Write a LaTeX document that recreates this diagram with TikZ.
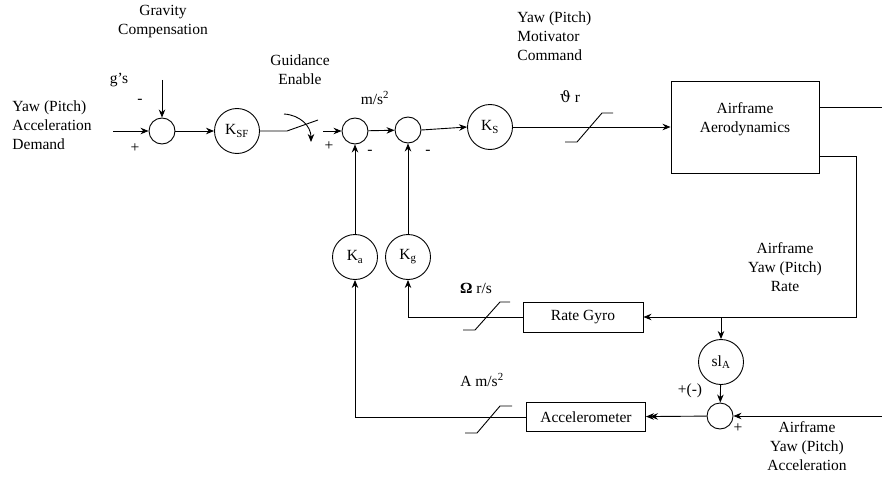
\documentclass[tikz,border=0pt]{standalone}
\usepackage{fontspec}
\setmainfont{Liberation Serif}
\newfontfamily\diagfont{Liberation Serif}
\newfontfamily\greekfont{DejaVu Serif}
\usetikzlibrary{arrows.meta}
\begin{document}
\begin{tikzpicture}[x=1pt,y=-1pt,
  font=\diagfont\fontsize{15.5}{19}\selectfont,
  line width=0.9pt,
  >={Stealth[length=8pt,width=6.5pt]},
  sumnode/.style={circle,draw,minimum size=26pt,inner sep=0pt},
  gainnode/.style={circle,draw,minimum size=45pt,inner sep=0pt},
  blocknode/.style={rectangle,draw,inner sep=0pt},
  lbl/.style={inner sep=0pt,align=center},
  lbll/.style={inner sep=0pt,align=left,anchor=west},
  dbl/.style={-{Stealth[length=8pt,width=6.5pt,sep=-4pt]Stealth[length=8pt,width=6.5pt]}},
]
\useasboundingbox (0,0) rectangle (882,476);

% forward path
\node[sumnode] (s1) at (162,131) {};
\node[gainnode] (ksf) at (237,131) {K\textsubscript{SF}};
\node[sumnode] (s2) at (355,131) {};
\node[sumnode] (s3) at (408,130) {};
\node[gainnode] (ks) at (490,127) {K\textsubscript{S}};
\node[blocknode,minimum width=148pt,minimum height=92pt] (af) at (745,127) {};
\node[lbl] (aftxt) at (745,119) {Airframe\\Aerodynamics};

% feedback path
\node[gainnode] (ka) at (355,257) {K\textsubscript{a}};
\node[gainnode] (kg) at (408,257) {K\textsubscript{g}};
\node[blocknode,minimum width=120pt,minimum height=30pt] (rg) at (583,317) {Rate Gyro};
\node[blocknode,minimum width=119pt,minimum height=29pt] (acc) at (586,417) {Accelerometer};
\node[gainnode] (sla) at (721,362) {sl\textsubscript{A}};
\node[sumnode] (s4) at (720,416) {};

% free ends
\coordinate (inA) at (113,131);
\coordinate (gIn) at (162,80);
\coordinate (swA) at (287,131);
\coordinate (swB) at (318,120);
\coordinate (swC) at (323,131);
\coordinate (swArcA) at (284,114);
\coordinate (swArcB) at (311,142);
\coordinate (out1) at (882,107);
\coordinate (rc) at (856,156);
\coordinate (rd) at (856,317);
\coordinate (tap) at (721,317);
\coordinate (accIn) at (882,416);

% connectors
\draw[->] (inA) -- (s1);
\draw[->] (gIn) -- (s1);
\draw[->] (s1) -- (ksf);
\draw (ksf) -- (swA) -- (swB);
\draw[->] (swArcA) .. controls (300,115) and (311,126) .. (swArcB);
\draw[->] (swC) -- (s2);
\draw[->] (s2) -- (s3);
\draw[->] (s3.east) -- (ks.west);
\draw[->] (ks) -- (ks -| af.west);
\draw (af.east |- out1) -- (out1);
\draw[->] (af.east |- rc) -- (rc) -- (rd) -- (rg.east);
\draw[->] (tap) -- (sla);
\draw[->] (sla) -- (s4);
\draw[->] (accIn) -- (s4);
\draw[dbl] (s4) -- (acc);
\draw[->] (rg.west) -| (kg);
\draw[->] (acc.west) -| (ka);
\draw[->] (kg) -- (s3);
\draw[->] (ka) -- (s2);

% limiters
\draw (565,142) -- (577,142) -- (602,113) -- (613,113);
\draw (463,330) -- (475,330) -- (500,302) -- (510,302);
\draw (465,433) -- (477,433) -- (500,406) -- (512,406);

% labels
\node[lbl] (lgc) at (163,22) {Gravity\\Compensation};
\node[lbl] (lg) at (119,80) {g’s};
\node[lbl] (m1) at (140,101) {-};
\node[lbl] (p1) at (135,148) {+};
\node[lbll] (ldem) at (12,125) {Yaw (Pitch)\\Acceleration\\Demand};
\node[lbl] (lge) at (300,70) {Guidance\\Enable};
\node[lbl] (lms) at (375,98) {m/s\textsuperscript{2}};
\node[lbl] (p2) at (329,146) {+};
\node[lbl] (m2) at (370,152) {-};
\node[lbl] (m3) at (428,152) {-};
\node[lbll] (lmc) at (517,36) {Yaw (Pitch)\\Motivator\\Command};
\node[lbl] (lth) at (570,97) {{\greekfont ϑ} r};
\node[lbl] (lrate) at (785,267) {Airframe\\Yaw (Pitch)\\Rate};
\node[lbl] (lom) at (476,288) {\textbf{Ω} r/s};
\node[lbl] (lam) at (482,380) {A m/s\textsuperscript{2}};
\node[lbl] (lpm) at (690,391) {+(-)};
\node[lbl] (p4) at (738,428) {+};
\node[lbl] (lacc) at (807,446) {Airframe\\Yaw (Pitch)\\Acceleration};
\end{tikzpicture}
\end{document}
